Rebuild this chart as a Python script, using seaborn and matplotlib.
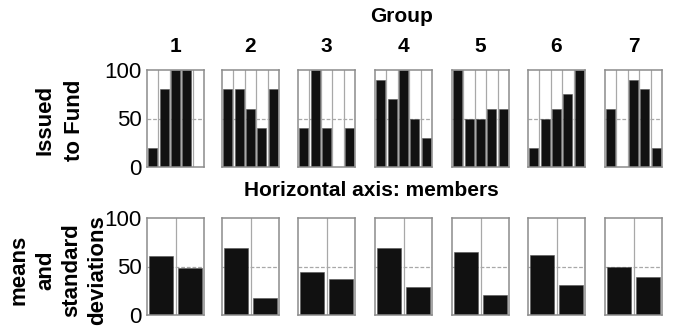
import matplotlib
matplotlib.use("Agg")
import matplotlib.pyplot as plt
import seaborn as sns
import pandas as pd

sns.set_theme(style="white")
plt.rcParams["font.family"] = ["Liberation Sans", "DejaVu Sans"]
plt.rcParams["text.color"] = "black"
plt.rcParams["ytick.color"] = "black"
plt.rcParams["font.weight"] = "bold"

groups = ["1", "2", "3", "4", "5", "6", "7"]
members = ["m1", "m2", "m3", "m4", "m5"]

# Amount issued to the fund by each of the five members, per group
issued_g1 = [20, 80, 100, 100, 0]
issued_g2 = [80, 80, 60, 40, 80]
issued_g3 = [40, 100, 40, 0, 40]
issued_g4 = [90, 70, 100, 50, 30]
issued_g5 = [100, 50, 50, 60, 60]
issued_g6 = [20, 50, 60, 75, 100]
issued_g7 = [60, 0, 90, 80, 20]
issued = [issued_g1, issued_g2, issued_g3, issued_g4, issued_g5, issued_g6, issued_g7]

# Mean and standard deviation per group
stat_labels = ["mean", "sd"]
means = [61, 69, 44, 69, 65, 62, 50]
sds = [48, 18, 37, 29, 21, 31, 39]

BAR = "#111111"
GRID = "#a8a8a8"
FRAME = "#8c8c8c"

fig = plt.figure(figsize=(6.76, 3.27), dpi=100)
W, H = 676, 327

lefts = [147, 222, 298, 375, 452, 528, 605]
pw = 57
top_row = (70, 167)
bot_row = (218, 315)


def make_ax(xl, row):
    y0, y1 = row
    return fig.add_axes([xl / W, 1 - y1 / H, pw / W, (y1 - y0) / H])


def style(ax, n, first):
    ax.set_xlim(-0.5, n - 0.5)
    ax.set_ylim(0, 100)
    ax.set_zorder(1)
    for b in range(n - 1):
        ax.axvline(b + 0.5, color=GRID, lw=0.9, zorder=0)
    ax.axhline(50, color=GRID, lw=0.9, ls=(0, (3, 1.5)), zorder=0)
    for s in ax.spines.values():
        s.set_color(FRAME)
        s.set_linewidth(1.1)
    ax.set_xticks([])
    ax.set_xlabel("")
    ax.set_ylabel("")
    if first:
        ax.set_yticks([0, 50, 100])
        ax.set_yticklabels(["0", "50", "100"], fontsize=16, fontweight="normal")
        ax.tick_params(axis="y", length=3, width=0.8, color=FRAME, pad=1, direction="out")
    else:
        ax.set_yticks([])


for i, g in enumerate(groups):
    ax = make_ax(lefts[i], top_row)
    df = pd.DataFrame({"member": members, "value": issued[i]})
    sns.barplot(data=df, x="member", y="value", ax=ax, color=BAR,
                saturation=1, width=0.8, edgecolor="#555555", linewidth=0.4, zorder=2)
    style(ax, len(members), i == 0)
    fig.text((lefts[i] + pw / 2) / W, 1 - 46 / H, g, ha="center", va="center", fontsize=15)

    ax2 = make_ax(lefts[i], bot_row)
    df2 = pd.DataFrame({"stat": stat_labels, "value": [means[i], sds[i]]})
    sns.barplot(data=df2, x="stat", y="value", ax=ax2, color=BAR,
                saturation=1, width=0.84, edgecolor="#555555", linewidth=0.4, zorder=2)
    style(ax2, 2, i == 0)

fig.text(402 / W, 1 - 16 / H, "Group", ha="center", va="center", fontsize=15)
fig.text(371 / W, 1 - 190 / H, "Horizontal axis: members", ha="center", va="center", fontsize=15)

fig.text(45 / W, 1 - 120 / H, "Issued", rotation=90, ha="center", va="center", fontsize=16)
fig.text(75 / W, 1 - 120 / H, "to Fund", rotation=90, ha="center", va="center", fontsize=16)

for x, t in zip([19, 46, 72, 98], ["means", "and", "standard", "deviations"]):
    fig.text(x / W, 1 - 270 / H, t, rotation=90, ha="center", va="center", fontsize=16)

fig.savefig("out.png", dpi=100, facecolor="white")
